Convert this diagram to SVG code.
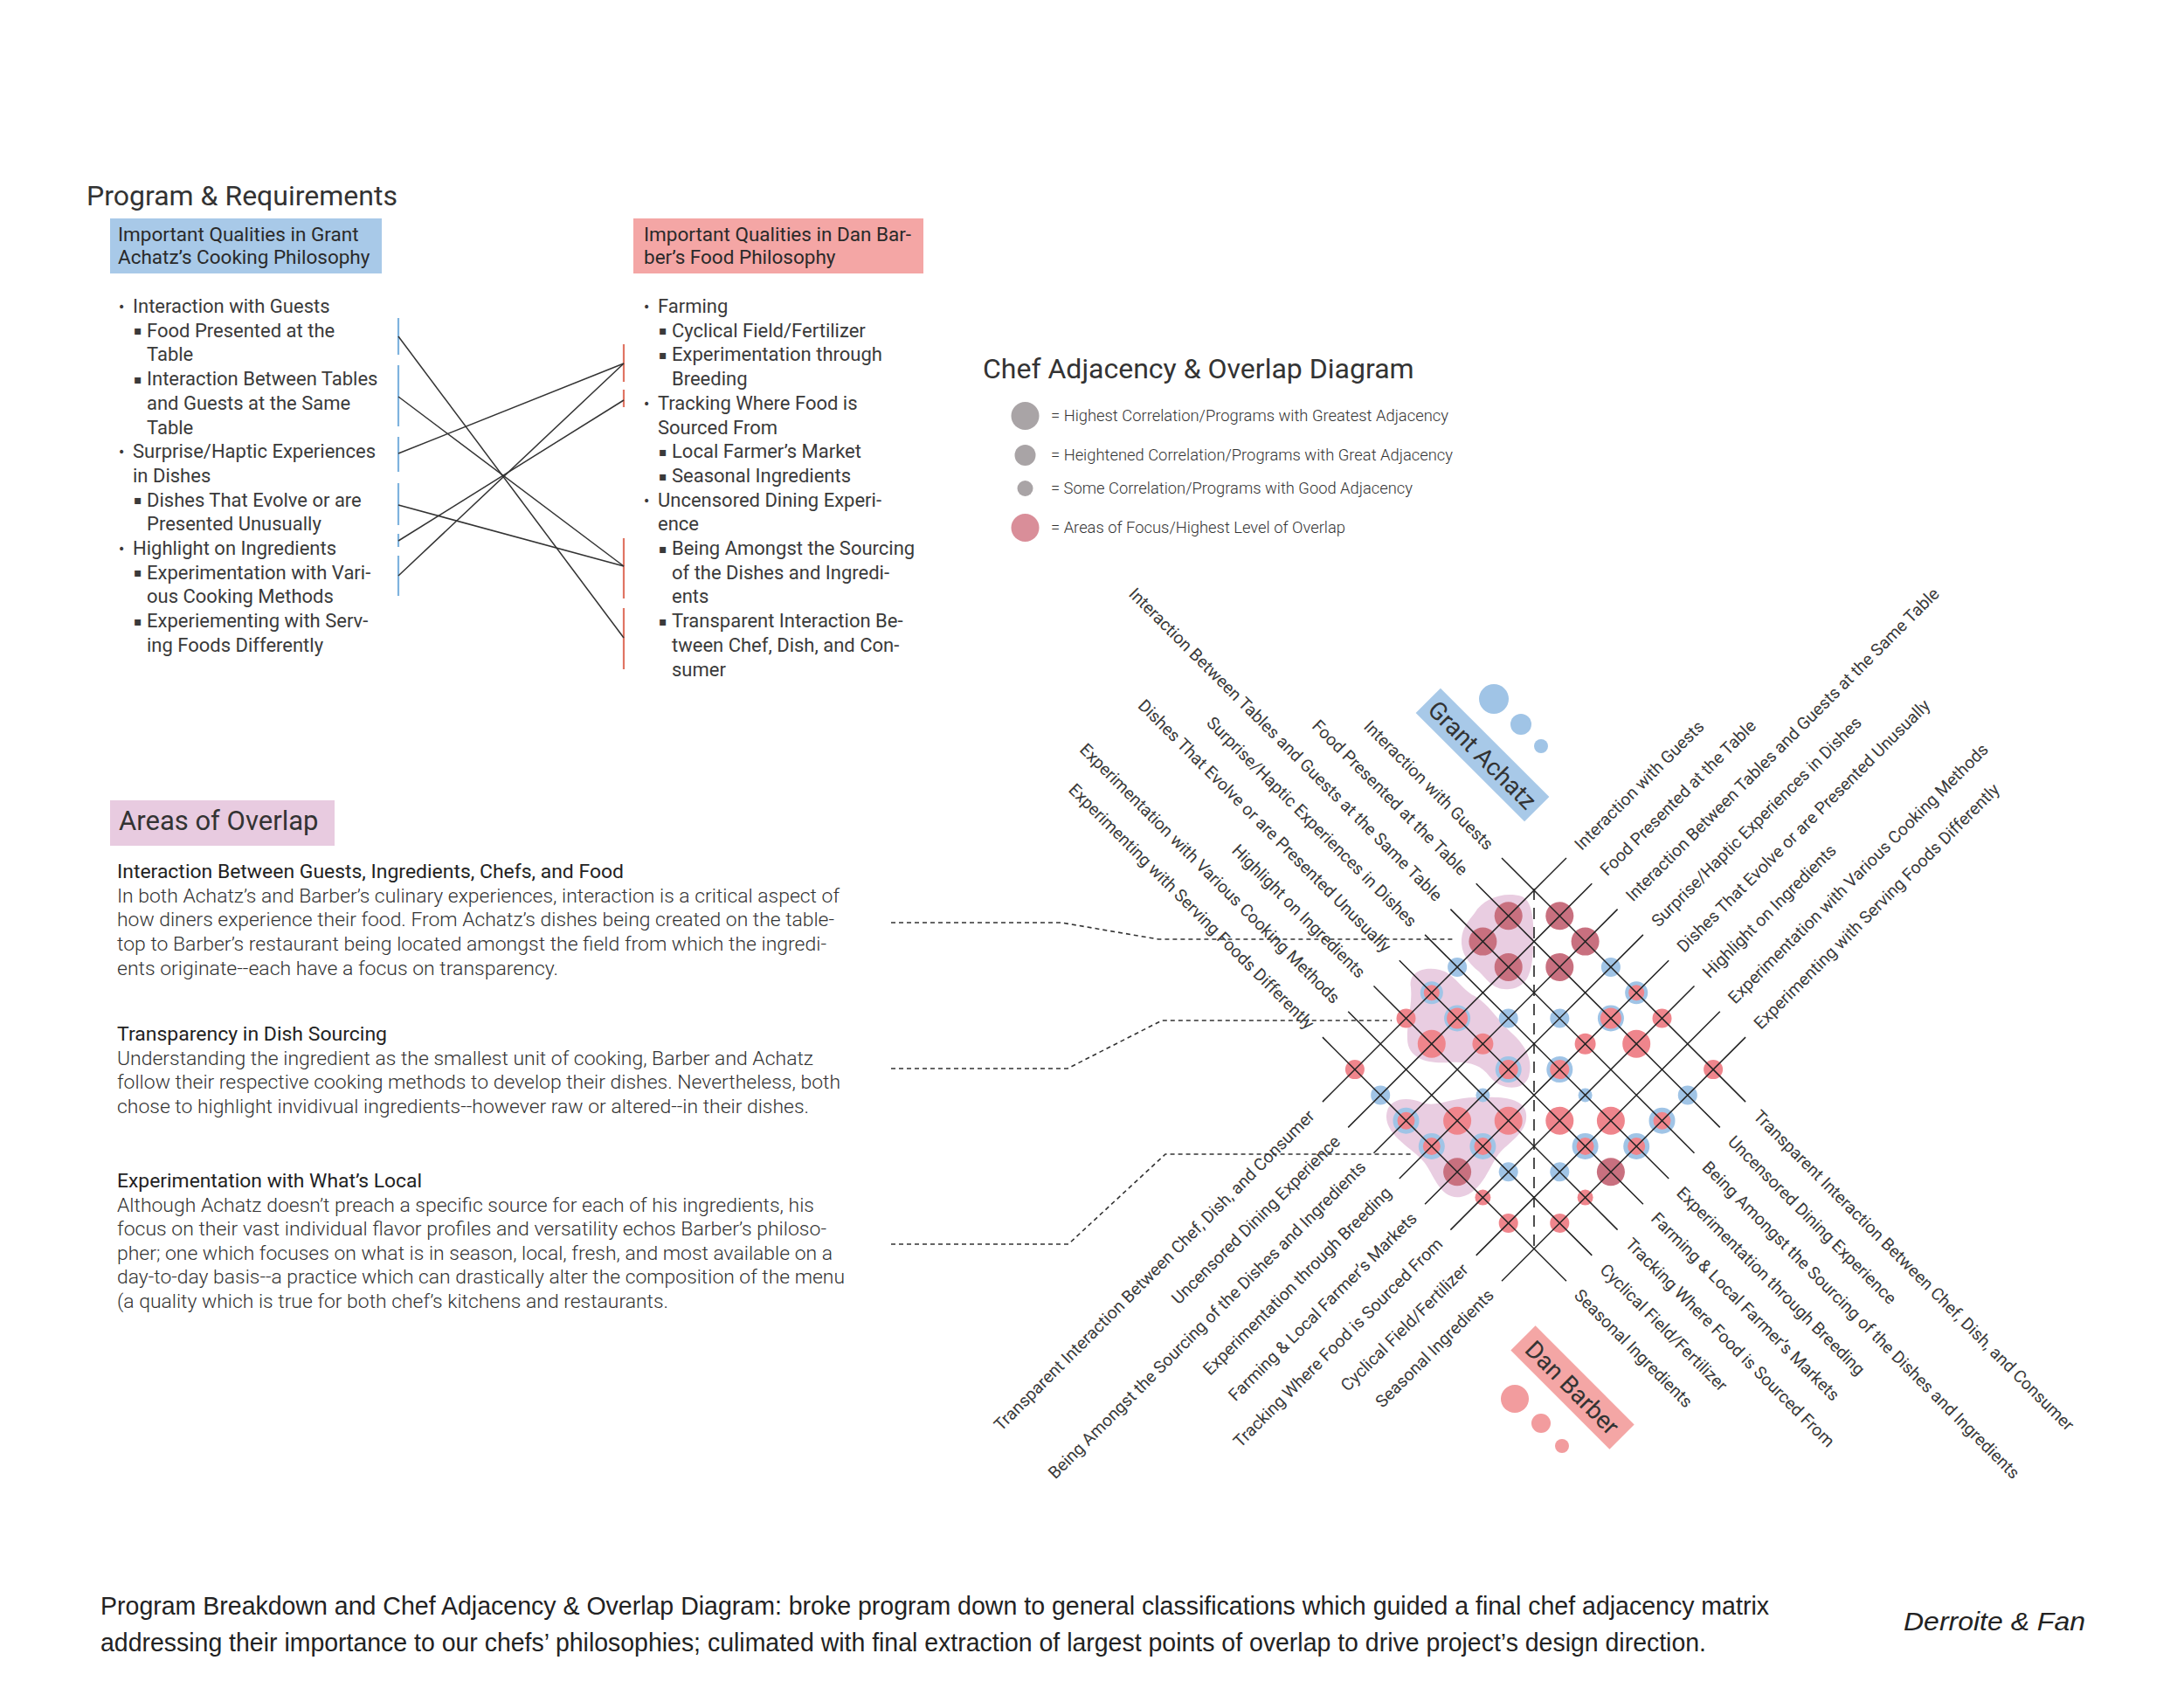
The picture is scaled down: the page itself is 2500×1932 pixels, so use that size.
<svg xmlns="http://www.w3.org/2000/svg" width="2500" height="1932" viewBox="0 0 2500 1932">
<style>
.t{font-family:Roboto,"Liberation Sans",sans-serif;fill:#333}
.h1{font-size:32px}
.hb{font-size:22.5px;font-weight:400;fill:#2a2a2a}
.li{font-size:22px;fill:#3a3a3a}
.bu{font-family:"DejaVu Sans",sans-serif;font-size:14px;fill:#3a3a3a}
.dl{font-size:19.5px;fill:#3a3a3a}
.lg{font-size:17.5px;font-weight:300}
.ah{font-size:31px}
.ph{font-size:22px;font-weight:400;fill:#222}
.pb{font-size:22px;font-weight:300}
.cap{font-family:"Liberation Sans",Arial,sans-serif;font-size:29px;fill:#222}
.g{stroke:#222;stroke-width:1.5}
.cn{stroke:#333;stroke-width:1.5;fill:none}
.ld{stroke:#333;stroke-width:1.6;fill:none;stroke-dasharray:5 4}
.sb{stroke:#7fb3de;stroke-width:2.2}
.sr{stroke:#e07563;stroke-width:2.2}
.cd{fill:#c8707f}
.cs{fill:#ef858c}
.cb{fill:#a0c4e6}
.blob{fill:#e4c0da;opacity:.8}
</style>
<rect width="2500" height="1932" fill="#fff"/>

<g id="program-title"><text class="t h1" x="99" y="235">Program &amp; Requirements</text></g>

<g id="achatz-header">
<rect x="126" y="250" width="311" height="63" fill="#a8c9e8"/>
<text class="t hb" x="135" y="276">Important Qualities in Grant</text>
<text class="t hb" x="135" y="302">Achatz’s Cooking Philosophy</text>
</g>

<g id="barber-header">
<rect x="725" y="250" width="332" height="63" fill="#f4a6a5"/>
<text class="t hb" x="737" y="276">Important Qualities in Dan Bar-</text>
<text class="t hb" x="737" y="302">ber’s Food Philosophy</text>
</g>

<g id="achatz-list">
<text class="bu" x="135" y="356">•</text><text class="t li" x="152" y="358">Interaction with Guests</text>
<text class="bu" x="153" y="383">▪</text><text class="t li" x="168" y="385.7">Food Presented at the</text>
<text class="t li" x="168" y="413.4">Table</text>
<text class="bu" x="153" y="438.5">▪</text><text class="t li" x="168" y="441.1">Interaction Between Tables</text>
<text class="t li" x="168" y="468.8">and Guests at the Same</text>
<text class="t li" x="168" y="496.5">Table</text>
<text class="bu" x="135" y="522">•</text><text class="t li" x="152" y="524.2">Surprise/Haptic Experiences</text>
<text class="t li" x="152" y="551.9">in Dishes</text>
<text class="bu" x="153" y="577">▪</text><text class="t li" x="168" y="579.6">Dishes That Evolve or are</text>
<text class="t li" x="168" y="607.3">Presented Unusually</text>
<text class="bu" x="135" y="633">•</text><text class="t li" x="152" y="635">Highlight on Ingredients</text>
<text class="bu" x="153" y="660">▪</text><text class="t li" x="168" y="662.7">Experimentation with Vari-</text>
<text class="t li" x="168" y="690.4">ous Cooking Methods</text>
<text class="bu" x="153" y="715.5">▪</text><text class="t li" x="168" y="718.1">Experiementing with Serv-</text>
<text class="t li" x="168" y="745.8">ing Foods Differently</text>
</g>

<g id="barber-list">
<text class="bu" x="736" y="356">•</text><text class="t li" x="753" y="358">Farming</text>
<text class="bu" x="754" y="383">▪</text><text class="t li" x="769" y="385.7">Cyclical Field/Fertilizer</text>
<text class="bu" x="754" y="411">▪</text><text class="t li" x="769" y="413.4">Experimentation through</text>
<text class="t li" x="769" y="441.1">Breeding</text>
<text class="bu" x="736" y="466.5">•</text><text class="t li" x="753" y="468.8">Tracking Where Food is</text>
<text class="t li" x="753" y="496.5">Sourced From</text>
<text class="bu" x="754" y="521.5">▪</text><text class="t li" x="769" y="524.2">Local Farmer’s Market</text>
<text class="bu" x="754" y="549.5">▪</text><text class="t li" x="769" y="551.9">Seasonal Ingredients</text>
<text class="bu" x="736" y="577.5">•</text><text class="t li" x="753" y="579.6">Uncensored Dining Experi-</text>
<text class="t li" x="753" y="607.3">ence</text>
<text class="bu" x="754" y="632.5">▪</text><text class="t li" x="769" y="635">Being Amongst the Sourcing</text>
<text class="t li" x="769" y="662.7">of the Dishes and Ingredi-</text>
<text class="t li" x="769" y="690.4">ents</text>
<text class="bu" x="754" y="715.5">▪</text><text class="t li" x="769" y="718.1">Transparent Interaction Be-</text>
<text class="t li" x="769" y="745.8">tween Chef, Dish, and Con-</text>
<text class="t li" x="769" y="773.5">sumer</text>
</g>

<g id="list-connectors">
<line class="sb" x1="456" y1="364" x2="456" y2="406"/>
<line class="sb" x1="456" y1="418" x2="456" y2="488"/>
<line class="sb" x1="456" y1="500" x2="456" y2="540"/>
<line class="sb" x1="456" y1="553" x2="456" y2="601"/>
<line class="sb" x1="456" y1="611" x2="456" y2="626"/>
<line class="sb" x1="456" y1="636" x2="456" y2="682"/>
<line class="sr" x1="714" y1="394" x2="714" y2="437"/>
<line class="sr" x1="714" y1="446" x2="714" y2="466"/>
<line class="sr" x1="714" y1="616" x2="714" y2="685"/>
<line class="sr" x1="714" y1="696" x2="714" y2="766"/>
<line class="cn" x1="456" y1="385" x2="714" y2="730"/>
<line class="cn" x1="456" y1="454" x2="714" y2="648"/>
<line class="cn" x1="456" y1="519" x2="714" y2="416"/>
<line class="cn" x1="456" y1="578" x2="714" y2="648"/>
<line class="cn" x1="456" y1="619" x2="714" y2="458"/>
<line class="cn" x1="456" y1="659" x2="714" y2="416"/>
</g>

<g id="adjacency-title"><text class="t h1" x="1125" y="433">Chef Adjacency &amp; Overlap Diagram</text></g>

<g id="legend">
<circle cx="1173.5" cy="476" r="16" fill="#a9a4a6"/>
<text class="t lg" x="1203" y="482" textLength="455" lengthAdjust="spacingAndGlyphs">= Highest Correlation/Programs with Greatest Adjacency</text>
<circle cx="1173.5" cy="521" r="12" fill="#a9a4a6"/>
<text class="t lg" x="1203" y="527" textLength="460" lengthAdjust="spacingAndGlyphs">= Heightened Correlation/Programs with Great Adjacency</text>
<circle cx="1173.5" cy="559" r="9" fill="#a9a4a6"/>
<text class="t lg" x="1203" y="565" textLength="414" lengthAdjust="spacingAndGlyphs">= Some Correlation/Programs with Good Adjacency</text>
<circle cx="1173.5" cy="604" r="16" fill="#d98e99"/>
<text class="t lg" x="1203" y="610" textLength="337" lengthAdjust="spacingAndGlyphs">= Areas of Focus/Highest Level of Overlap</text>
</g>

<g id="grant-achatz-label">
<g transform="translate(1697 864) rotate(45)">
<rect x="-88" y="-20" width="176" height="40" fill="#a8c9e8"/>
<text class="t" font-size="28" text-anchor="middle" y="10">Grant Achatz</text>
</g>
<circle cx="1710" cy="800" r="17" fill="#a0c4e6"/>
<circle cx="1741" cy="829" r="12" fill="#a0c4e6"/>
<circle cx="1764" cy="854" r="8" fill="#a0c4e6"/>
</g>

<g id="dan-barber-label">
<g transform="translate(1800 1588) rotate(45)">
<rect x="-80" y="-20" width="160" height="40" fill="#f4a6a5"/>
<text class="t" font-size="28" text-anchor="middle" y="10">Dan Barber</text>
</g>
<circle cx="1734" cy="1601" r="16" fill="#f29c9e"/>
<circle cx="1764" cy="1629" r="11" fill="#f29c9e"/>
<circle cx="1788" cy="1655" r="8" fill="#f29c9e"/>
</g>

<g id="overlap-blobs">
<path class="blob" d="M1688,1045 C1698,1028 1722,1020 1742,1026 C1756,1032 1756,1060 1755,1085 C1754,1110 1750,1130 1728,1132 C1710,1134 1703,1122 1693,1112 C1680,1102 1672,1090 1673,1075 C1674,1062 1680,1055 1688,1045 Z"/>
<path class="blob" d="M1615,1130 C1612,1112 1630,1106 1648,1110 C1665,1114 1672,1132 1688,1140 C1705,1150 1712,1165 1730,1182 C1748,1198 1755,1215 1750,1232 C1745,1248 1720,1250 1705,1232 C1695,1218 1680,1215 1660,1216 C1635,1218 1612,1212 1611,1190 C1610,1170 1617,1150 1615,1130 Z"/>
<path class="blob" d="M1587,1277 C1588,1258 1608,1254 1628,1262 C1645,1268 1660,1256 1690,1256 C1715,1255 1745,1255 1747,1275 C1749,1295 1730,1305 1718,1318 C1705,1332 1698,1365 1672,1370 C1648,1373 1642,1345 1630,1330 C1618,1315 1586,1300 1587,1277 Z"/>
</g>

<g id="matrix-circles">
<circle class="cd" cx="1726.7" cy="1048.3" r="16"/><circle class="cd" cx="1785.3" cy="1048.3" r="16"/>
<circle class="cd" cx="1697.4" cy="1077.6" r="16"/><circle class="cd" cx="1814.6" cy="1077.6" r="16"/>
<circle class="cd" cx="1726.7" cy="1106.9" r="16"/><circle class="cd" cx="1785.3" cy="1106.9" r="16"/>
<circle class="cd" cx="1668.1" cy="1341.3" r="16"/><circle class="cd" cx="1843.9" cy="1341.3" r="16"/>
<circle class="cb" cx="1668.1" cy="1106.9" r="11"/><circle class="cb" cx="1843.9" cy="1106.9" r="11"/>
<circle class="cb" cx="1726.7" cy="1165.5" r="11"/><circle class="cb" cx="1785.3" cy="1165.5" r="11"/>
<circle class="cb" cx="1580.2" cy="1253.4" r="11"/><circle class="cb" cx="1931.8" cy="1253.4" r="11"/>
<circle class="cb" cx="1726.7" cy="1341.3" r="11"/><circle class="cb" cx="1785.3" cy="1341.3" r="11"/>
<circle class="cb" cx="1697.4" cy="1253.4" r="8"/><circle class="cb" cx="1814.6" cy="1253.4" r="8"/>
<circle class="cb" cx="1638.8" cy="1136.2" r="13"/><circle class="cs" cx="1638.8" cy="1136.2" r="9"/>
<circle class="cb" cx="1873.2" cy="1136.2" r="13"/><circle class="cs" cx="1873.2" cy="1136.2" r="9"/>
<circle class="cb" cx="1668.1" cy="1165.5" r="15"/><circle class="cs" cx="1668.1" cy="1165.5" r="12"/>
<circle class="cb" cx="1843.9" cy="1165.5" r="15"/><circle class="cs" cx="1843.9" cy="1165.5" r="12"/>
<circle class="cb" cx="1726.7" cy="1224.1" r="15"/><circle class="cs" cx="1726.7" cy="1224.1" r="11"/>
<circle class="cb" cx="1785.3" cy="1224.1" r="15"/><circle class="cs" cx="1785.3" cy="1224.1" r="11"/>
<circle class="cb" cx="1609.5" cy="1282.7" r="15"/><circle class="cs" cx="1609.5" cy="1282.7" r="10"/>
<circle class="cb" cx="1902.5" cy="1282.7" r="15"/><circle class="cs" cx="1902.5" cy="1282.7" r="10"/>
<circle class="cb" cx="1638.8" cy="1312" r="15"/><circle class="cs" cx="1638.8" cy="1312" r="10"/>
<circle class="cb" cx="1697.4" cy="1312" r="15"/><circle class="cs" cx="1697.4" cy="1312" r="10"/>
<circle class="cb" cx="1814.6" cy="1312" r="15"/><circle class="cs" cx="1814.6" cy="1312" r="10"/>
<circle class="cb" cx="1873.2" cy="1312" r="15"/><circle class="cs" cx="1873.2" cy="1312" r="10"/>
<circle class="cs" cx="1609.5" cy="1165.5" r="11"/><circle class="cs" cx="1902.5" cy="1165.5" r="11"/>
<circle class="cs" cx="1638.8" cy="1194.8" r="16"/><circle class="cs" cx="1873.2" cy="1194.8" r="16"/>
<circle class="cs" cx="1697.4" cy="1194.8" r="12"/><circle class="cs" cx="1814.6" cy="1194.8" r="12"/>
<circle class="cs" cx="1550.9" cy="1224.1" r="11"/><circle class="cs" cx="1961.1" cy="1224.1" r="11"/>
<circle class="cs" cx="1668.1" cy="1282.7" r="16"/><circle class="cs" cx="1726.7" cy="1282.7" r="16"/>
<circle class="cs" cx="1785.3" cy="1282.7" r="16"/><circle class="cs" cx="1843.9" cy="1282.7" r="16"/>
<circle class="cs" cx="1697.4" cy="1370.6" r="9"/><circle class="cs" cx="1814.6" cy="1370.6" r="9"/>
<circle class="cs" cx="1726.7" cy="1399.9" r="11"/><circle class="cs" cx="1785.3" cy="1399.9" r="11"/>
</g>

<g id="matrix-grid">
<line class="g" x1="1719" y1="982" x2="1998.1" y2="1261.1"/>
<line class="g" x1="1689.7" y1="1011.3" x2="1968.8" y2="1290.4"/>
<line class="g" x1="1660.4" y1="1040.6" x2="1939.5" y2="1319.7"/>
<line class="g" x1="1631.1" y1="1069.9" x2="1910.2" y2="1349"/>
<line class="g" x1="1601.8" y1="1099.2" x2="1880.9" y2="1378.3"/>
<line class="g" x1="1572.5" y1="1128.5" x2="1851.6" y2="1407.6"/>
<line class="g" x1="1543.2" y1="1157.8" x2="1822.3" y2="1436.9"/>
<line class="g" x1="1513.9" y1="1187.1" x2="1793" y2="1466.2"/>
<line class="g" x1="1793" y1="982" x2="1513.9" y2="1261.1"/>
<line class="g" x1="1822.3" y1="1011.3" x2="1543.2" y2="1290.4"/>
<line class="g" x1="1851.6" y1="1040.6" x2="1572.5" y2="1319.7"/>
<line class="g" x1="1880.9" y1="1069.9" x2="1601.8" y2="1349"/>
<line class="g" x1="1910.2" y1="1099.2" x2="1631.1" y2="1378.3"/>
<line class="g" x1="1939.5" y1="1128.5" x2="1660.4" y2="1407.6"/>
<line class="g" x1="1968.8" y1="1157.8" x2="1689.7" y2="1436.9"/>
<line class="g" x1="1998.1" y1="1187.1" x2="1719" y2="1466.2"/>
<line x1="1756" y1="1017" x2="1756" y2="1430" stroke="#222" stroke-width="1.6" stroke-dasharray="13 9"/>
</g>

<g id="labels-achatz-left">
<text class="t dl" text-anchor="end" dy=".35em" transform="translate(1706.3 969.3) rotate(45)">Interaction with Guests</text>
<text class="t dl" text-anchor="end" dy=".35em" transform="translate(1677 998.6) rotate(45)">Food Presented at the Table</text>
<text class="t dl" text-anchor="end" dy=".35em" transform="translate(1647.7 1027.9) rotate(45)">Interaction Between Tables and Guests at the Same Table</text>
<text class="t dl" text-anchor="end" dy=".35em" transform="translate(1618.4 1057.2) rotate(45)">Surprise/Haptic Experiences in Dishes</text>
<text class="t dl" text-anchor="end" dy=".35em" transform="translate(1589.1 1086.5) rotate(45)">Dishes That Evolve or are Presented Unusually</text>
<text class="t dl" text-anchor="end" dy=".35em" transform="translate(1559.8 1115.8) rotate(45)">Highlight on Ingredients</text>
<text class="t dl" text-anchor="end" dy=".35em" transform="translate(1530.5 1145.1) rotate(45)">Experimentation with Various Cooking Methods</text>
<text class="t dl" text-anchor="end" dy=".35em" transform="translate(1501.2 1174.4) rotate(45)">Experimenting with Serving Foods Differently</text>
</g>

<g id="labels-achatz-right">
<text class="t dl" dy=".35em" transform="translate(1805.7 969.3) rotate(-45)">Interaction with Guests</text>
<text class="t dl" dy=".35em" transform="translate(1835 998.6) rotate(-45)">Food Presented at the Table</text>
<text class="t dl" dy=".35em" transform="translate(1864.3 1027.9) rotate(-45)">Interaction Between Tables and Guests at the Same Table</text>
<text class="t dl" dy=".35em" transform="translate(1893.6 1057.2) rotate(-45)">Surprise/Haptic Experiences in Dishes</text>
<text class="t dl" dy=".35em" transform="translate(1922.9 1086.5) rotate(-45)">Dishes That Evolve or are Presented Unusually</text>
<text class="t dl" dy=".35em" transform="translate(1952.2 1115.8) rotate(-45)">Highlight on Ingredients</text>
<text class="t dl" dy=".35em" transform="translate(1981.5 1145.1) rotate(-45)">Experimentation with Various Cooking Methods</text>
<text class="t dl" dy=".35em" transform="translate(2010.8 1174.4) rotate(-45)">Experimenting with Serving Foods Differently</text>
</g>

<g id="labels-barber-left">
<text class="t dl" text-anchor="end" dy=".35em" transform="translate(1501.2 1273.8) rotate(-45)">Transparent Interaction Between Chef, Dish, and Consumer</text>
<text class="t dl" text-anchor="end" dy=".35em" transform="translate(1530.5 1303.1) rotate(-45)">Uncensored Dining Experience</text>
<text class="t dl" text-anchor="end" dy=".35em" transform="translate(1559.8 1332.4) rotate(-45)">Being Amongst the Sourcing of the Dishes and Ingredients</text>
<text class="t dl" text-anchor="end" dy=".35em" transform="translate(1589.1 1361.7) rotate(-45)">Experimentation through Breeding</text>
<text class="t dl" text-anchor="end" dy=".35em" transform="translate(1618.4 1391) rotate(-45)">Farming &amp; Local Farmer’s Markets</text>
<text class="t dl" text-anchor="end" dy=".35em" transform="translate(1647.7 1420.3) rotate(-45)">Tracking Where Food is Sourced From</text>
<text class="t dl" text-anchor="end" dy=".35em" transform="translate(1677 1449.6) rotate(-45)">Cyclical Field/Fertilizer</text>
<text class="t dl" text-anchor="end" dy=".35em" transform="translate(1706.3 1478.9) rotate(-45)">Seasonal Ingredients</text>
</g>

<g id="labels-barber-right">
<text class="t dl" dy=".35em" transform="translate(2010.8 1273.8) rotate(45)">Transparent Interaction Between Chef, Dish, and Consumer</text>
<text class="t dl" dy=".35em" transform="translate(1981.5 1303.1) rotate(45)">Uncensored Dining Experience</text>
<text class="t dl" dy=".35em" transform="translate(1952.2 1332.4) rotate(45)">Being Amongst the Sourcing of the Dishes and Ingredients</text>
<text class="t dl" dy=".35em" transform="translate(1922.9 1361.7) rotate(45)">Experimentation through Breeding</text>
<text class="t dl" dy=".35em" transform="translate(1893.6 1391) rotate(45)">Farming &amp; Local Farmer’s Markets</text>
<text class="t dl" dy=".35em" transform="translate(1864.3 1420.3) rotate(45)">Tracking Where Food is Sourced From</text>
<text class="t dl" dy=".35em" transform="translate(1835 1449.6) rotate(45)">Cyclical Field/Fertilizer</text>
<text class="t dl" dy=".35em" transform="translate(1805.7 1478.9) rotate(45)">Seasonal Ingredients</text>
</g>

<g id="areas-of-overlap">
<rect x="126" y="916" width="257" height="52" fill="#e8cbe0"/>
<text class="t ah" x="136" y="950">Areas of Overlap</text>
</g>

<g id="overlap-1">
<text class="t ph" x="134" y="1005" textLength="580" lengthAdjust="spacingAndGlyphs">Interaction Between Guests, Ingredients, Chefs, and Food</text>
<text class="t pb" x="134" y="1032.5" textLength="827" lengthAdjust="spacingAndGlyphs">In both Achatz’s and Barber’s culinary experiences, interaction is a critical aspect of</text>
<text class="t pb" x="134" y="1060" textLength="821" lengthAdjust="spacingAndGlyphs">how diners experience their food. From Achatz’s dishes being created on the table-</text>
<text class="t pb" x="134" y="1088" textLength="812" lengthAdjust="spacingAndGlyphs">top to Barber’s restaurant being located amongst the field from which the ingredi-</text>
<text class="t pb" x="134" y="1115.5" textLength="505" lengthAdjust="spacingAndGlyphs">ents originate--each have a focus on transparency.</text>
</g>

<g id="overlap-2">
<text class="t ph" x="134" y="1191" textLength="309" lengthAdjust="spacingAndGlyphs">Transparency in Dish Sourcing</text>
<text class="t pb" x="134" y="1218.5" textLength="797" lengthAdjust="spacingAndGlyphs">Understanding the ingredient as the smallest unit of cooking, Barber and Achatz</text>
<text class="t pb" x="134" y="1246" textLength="828" lengthAdjust="spacingAndGlyphs">follow their respective cooking methods to develop their dishes. Nevertheless, both</text>
<text class="t pb" x="134" y="1274" textLength="792" lengthAdjust="spacingAndGlyphs">chose to highlight invidivual ingredients--however raw or altered--in their dishes.</text>
</g>

<g id="overlap-3">
<text class="t ph" x="134" y="1359" textLength="349" lengthAdjust="spacingAndGlyphs">Experimentation with What’s Local</text>
<text class="t pb" x="134" y="1386.5" textLength="798" lengthAdjust="spacingAndGlyphs">Although Achatz doesn’t preach a specific source for each of his ingredients, his</text>
<text class="t pb" x="134" y="1414" textLength="812" lengthAdjust="spacingAndGlyphs">focus on their vast individual flavor profiles and versatility echos Barber’s philoso-</text>
<text class="t pb" x="134" y="1442" textLength="819" lengthAdjust="spacingAndGlyphs">pher; one which focuses on what is in season, local, fresh, and most available on a</text>
<text class="t pb" x="134" y="1469" textLength="833" lengthAdjust="spacingAndGlyphs">day-to-day basis--a practice which can drastically alter the composition of the menu</text>
<text class="t pb" x="134" y="1497" textLength="631" lengthAdjust="spacingAndGlyphs">(a quality which is true for both chef’s kitchens and restaurants.</text>
</g>

<g id="leaders">
<path class="ld" d="M1020,1056 H1215 L1326,1075 H1663"/>
<path class="ld" d="M1020,1223 H1222 L1330,1168 H1593"/>
<path class="ld" d="M1020,1424 H1223 L1334,1321 H1618"/>
</g>

<g id="caption">
<text class="cap" x="115" y="1848" textLength="1910" lengthAdjust="spacingAndGlyphs">Program Breakdown and Chef Adjacency &amp; Overlap Diagram: broke program down to general classifications which guided a final chef adjacency matrix</text>
<text class="cap" x="115" y="1890" textLength="1838" lengthAdjust="spacingAndGlyphs">addressing their importance to our chefs’ philosophies; culimated with final extraction of largest points of overlap to drive project’s design direction.</text>
<text class="cap" x="2179" y="1866" font-size="32" font-style="italic" textLength="208" lengthAdjust="spacingAndGlyphs">Derroite &amp; Fan</text>
</g>
</svg>
